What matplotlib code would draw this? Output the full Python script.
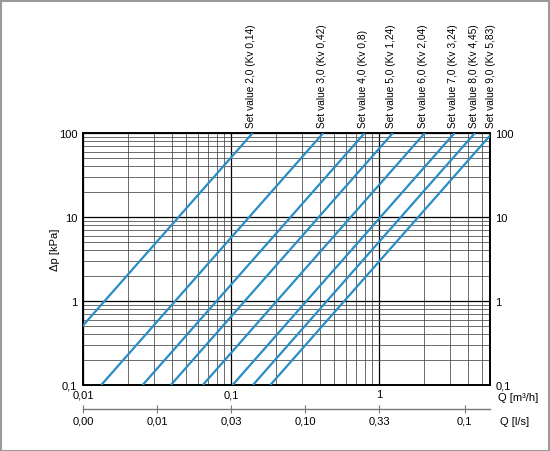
import numpy as np
import matplotlib
matplotlib.use("Agg")
import matplotlib.pyplot as plt
from matplotlib.patches import Rectangle

plt.rcParams['font.family'] = ['Liberation Sans Narrow', 'Liberation Sans', 'DejaVu Sans']

# Data
set_values = ["2,0", "3,0", "4,0", "5,0", "6,0", "7,0", "8,0", "9,0"]
kv_values = [0.14, 0.42, 0.8, 1.24, 2.04, 3.24, 4.45, 5.83]
kv_labels = ["0,14", "0,42", "0,8", "1,24", "2,04", "3,24", "4,45", "5,83"]
dp_range = [0.1, 100.0]  # kPa
x_ticks = [0.01, 0.1, 1]
x_ticklabels = ["0,01", "0,1", "1"]
y_ticks = [0.1, 1, 10, 100]
y_ticklabels = ["0,1", "1", "10", "100"]
ls_tick_pos = [0.01, 0.0316, 0.1, 0.316, 1.0, 3.8]  # on Q [m3/h] scale
ls_tick_labels = ["0,00", "0,01", "0,03", "0,10", "0,33", "0,1"]

W, H = 550, 452
fig = plt.figure(figsize=(W / 100, H / 100), dpi=100)
ax = fig.add_axes([83 / W, 1 - 386 / H, (490 - 83) / W, (386 - 134) / H])
ax.set_xscale('log')
ax.set_yscale('log')
xmax = 10 ** ((490 - 83) / 148 - 2)
ax.set_xlim(0.01, xmax)
ax.set_ylim(0.1, 100)

color = '#2a8dc5'
for kv in kv_values:
    dp = np.array(dp_range)
    q = kv * np.sqrt(dp / 100.0)
    ax.plot(q, dp, color=color, lw=1.6, solid_capstyle='butt', zorder=3)

ax.grid(which='major', color='black', lw=0.9)
ax.grid(which='minor', color='#444444', lw=0.55)
ax.set_axisbelow(True)
for s in ax.spines.values():
    s.set_linewidth(1.4)

ax.set_xticks(x_ticks)
ax.set_xticklabels(x_ticklabels)
ax.set_yticks(y_ticks)
ax.set_yticklabels(y_ticklabels)
ax.tick_params(which='both', length=0, labelsize=8)
ax.tick_params(axis='x', pad=3)
ax.tick_params(axis='y', pad=4, labelright=True, right=False)
ax.minorticks_on()
ax.tick_params(which='minor', length=0)
ax.xaxis.set_minor_formatter(matplotlib.ticker.NullFormatter())
ax.yaxis.set_minor_formatter(matplotlib.ticker.NullFormatter())

ax.set_ylabel("Δp [kPa]", fontsize=8)
ax.yaxis.set_label_coords(-0.0565, 0.54)

# Set value labels
for sv, kv, kl in zip(set_values, kv_values, kv_labels):
    ax.annotate(f"Set value {sv} (Kv {kl})", xy=(kv, 1.0), xycoords=ax.get_xaxis_transform(),
                xytext=(-1, 4.5), textcoords='offset points',
                rotation=90, ha='center', va='bottom', fontsize=7.3)

ax.text(1.02, -0.048, "Q [m³/h]", transform=ax.transAxes, ha='left', va='center', fontsize=8)

# Secondary l/s axis
sec = ax.secondary_xaxis(-0.095)
sec.set_xscale('log')
sec.set_xticks(ls_tick_pos)
sec.set_xticklabels(ls_tick_labels)
sec.xaxis.set_minor_locator(matplotlib.ticker.NullLocator())
sec.spines['bottom'].set_color('#777777')
sec.spines['bottom'].set_linewidth(1.0)
sec.tick_params(axis='x', direction='inout', length=6, color='#777777', labelsize=8, pad=2)
ax.text(1.025, -0.143, "Q [l/s]", transform=ax.transAxes, ha='left', va='center', fontsize=8)

fig.patches.append(Rectangle((0.5 / W, 0.5 / H), 1 - 2 / W, 1 - 2 / H, transform=fig.transFigure,
                             fill=False, edgecolor='#9a9a9a', lw=1.5))

fig.savefig("out.png", dpi=100)
